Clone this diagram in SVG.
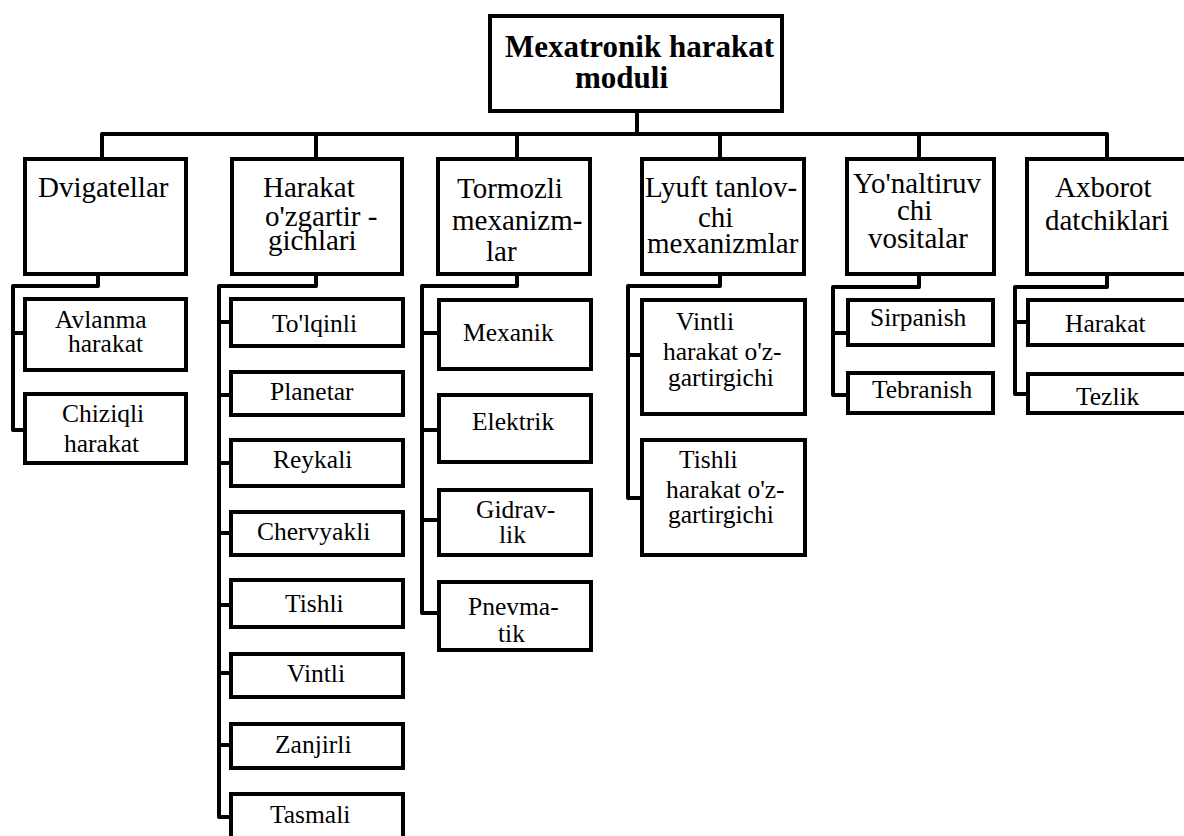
<svg xmlns="http://www.w3.org/2000/svg" width="1184" height="836" viewBox="0 0 1184 836">
<style>
.box{fill:#fff;stroke:#000;stroke-width:4}
.conn{fill:none;stroke:#000;stroke-width:4;stroke-linejoin:round}
text{font-family:'Liberation Serif','Times New Roman','DejaVu Serif',serif;fill:#000}
.root{font-size:31px;font-weight:bold}
.l1{font-size:29px}
.l2{font-size:25.5px}
</style>
<rect width="1184" height="836" fill="#fff"/>
<g id="connectors">
<path class="conn" d="M637 113V134M102 157V134H1107V157M316 134V157M517 134V157M720 134V157M919 134V157"/>
<path class="conn" d="M98 276V286H13V430H23M13 333H23"/>
<path class="conn" d="M316 276V286H219V817H229M219 322H229M219 395H229M219 463H229M219 533H229M219 605H229M219 673H229M219 745H229"/>
<path class="conn" d="M517 276V286H422V613H437M422 333H437M422 430H437M422 520H437"/>
<path class="conn" d="M720 276V286H628V498H640M628 355H640"/>
<path class="conn" d="M919 276V287H833V395H846M833 333H846"/>
<path class="conn" d="M1107 276V287H1015V394H1026M1015 322H1026"/>
</g>
<g id="root">
<rect class="box" x="490" y="16" width="292" height="95"/>
<text class="root" x="505" y="57">Mexatronik harakat</text>
<text class="root" x="575" y="88">moduli</text>
</g>
<g id="dvigatellar">
<rect class="box" x="25" y="159" width="161" height="115"/>
<text class="l1" x="38" y="197">Dvigatellar</text>
</g>
<g id="harakat-ozgartirgichlari">
<rect class="box" x="232" y="159" width="170" height="115"/>
<text class="l1" x="263" y="197">Harakat</text>
<text class="l1" x="265" y="226">o'zgartir -</text>
<text class="l1" x="268" y="250">gichlari</text>
</g>
<g id="tormozli">
<rect class="box" x="438" y="159" width="152" height="115"/>
<text class="l1" x="457" y="198">Tormozli</text>
<text class="l1" x="452" y="230">mexanizm-</text>
<text class="l1" x="486" y="261">lar</text>
</g>
<g id="lyuft">
<rect class="box" x="642" y="159" width="162" height="115"/>
<text class="l1" x="645" y="197">Lyuft tanlov-</text>
<text class="l1" x="698" y="227">chi</text>
<text class="l1" x="647" y="253">mexanizmlar</text>
</g>
<g id="yonaltiruvchi">
<rect class="box" x="847" y="159" width="147" height="115"/>
<text class="l1" x="853" y="193">Yo'naltiruv</text>
<text class="l1" x="897" y="220">chi</text>
<text class="l1" x="868" y="248">vositalar</text>
</g>
<g id="axborot">
<rect class="box" x="1027" y="159" width="170" height="115"/>
<text class="l1" x="1055" y="197">Axborot</text>
<text class="l1" x="1045" y="230">datchiklari</text>
</g>
<g id="avlanma">
<rect class="box" x="25" y="299" width="161" height="71"/>
<text class="l2" x="55" y="328">Avlanma</text>
<text class="l2" x="68" y="352">harakat</text>
</g>
<g id="chiziqli">
<rect class="box" x="25" y="394" width="161" height="69"/>
<text class="l2" x="62" y="422">Chiziqli</text>
<text class="l2" x="64" y="452">harakat</text>
</g>
<g id="tolqinli">
<rect class="box" x="231" y="299" width="172" height="47"/>
<text class="l2" x="272" y="332">To'lqinli</text>
</g>
<g id="planetar">
<rect class="box" x="231" y="372" width="172" height="43"/>
<text class="l2" x="270" y="400">Planetar</text>
</g>
<g id="reykali">
<rect class="box" x="231" y="440" width="172" height="46"/>
<text class="l2" x="273" y="468">Reykali</text>
</g>
<g id="chervyakli">
<rect class="box" x="231" y="512" width="172" height="43"/>
<text class="l2" x="257" y="540">Chervyakli</text>
</g>
<g id="tishli">
<rect class="box" x="231" y="580" width="172" height="47"/>
<text class="l2" x="285" y="612">Tishli</text>
</g>
<g id="vintli">
<rect class="box" x="231" y="654" width="172" height="43"/>
<text class="l2" x="287" y="682">Vintli</text>
</g>
<g id="zanjirli">
<rect class="box" x="231" y="724" width="172" height="44"/>
<text class="l2" x="275" y="753">Zanjirli</text>
</g>
<g id="tasmali">
<rect class="box" x="231" y="794" width="172" height="60"/>
<text class="l2" x="270" y="823">Tasmali</text>
</g>
<g id="mexanik">
<rect class="box" x="439" y="300" width="152" height="69"/>
<text class="l2" x="463" y="341">Mexanik</text>
</g>
<g id="elektrik">
<rect class="box" x="439" y="395" width="152" height="67"/>
<text class="l2" x="472" y="430">Elektrik</text>
</g>
<g id="gidravlik">
<rect class="box" x="439" y="490" width="152" height="65"/>
<text class="l2" x="476" y="518">Gidrav-</text>
<text class="l2" x="499" y="543">lik</text>
</g>
<g id="pnevmatik">
<rect class="box" x="439" y="582" width="152" height="68"/>
<text class="l2" x="468" y="615">Pnevma-</text>
<text class="l2" x="498" y="642">tik</text>
</g>
<g id="vintli-harakat">
<rect class="box" x="642" y="300" width="163" height="114"/>
<text class="l2" x="676" y="330">Vintli</text>
<text class="l2" x="663" y="360">harakat o'z-</text>
<text class="l2" x="668" y="386">gartirgichi</text>
</g>
<g id="tishli-harakat">
<rect class="box" x="642" y="440" width="163" height="115"/>
<text class="l2" x="679" y="468">Tishli</text>
<text class="l2" x="666" y="498">harakat o'z-</text>
<text class="l2" x="668" y="523">gartirgichi</text>
</g>
<g id="sirpanish">
<rect class="box" x="848" y="300" width="145" height="45"/>
<text class="l2" x="870" y="326">Sirpanish</text>
</g>
<g id="tebranish">
<rect class="box" x="848" y="373" width="145" height="40"/>
<text class="l2" x="872" y="398">Tebranish</text>
</g>
<g id="harakat-datchik">
<rect class="box" x="1028" y="300" width="170" height="45"/>
<text class="l2" x="1065" y="332">Harakat</text>
</g>
<g id="tezlik">
<rect class="box" x="1028" y="374" width="170" height="39"/>
<text class="l2" x="1076" y="405">Tezlik</text>
</g>
</svg>
